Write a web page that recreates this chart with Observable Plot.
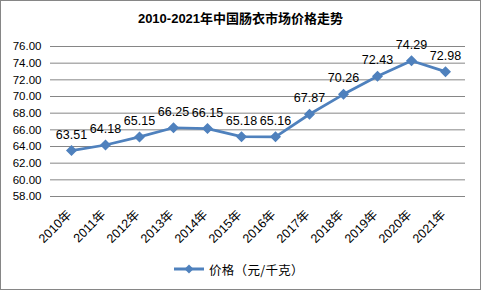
<!DOCTYPE html>
<html><head><meta charset="utf-8">
<script src="https://cdn.jsdelivr.net/npm/d3@7"></script>
<script src="https://cdn.jsdelivr.net/npm/@observablehq/plot@0.6"></script>
<style>
body{margin:0;background:#fff;}
#wrap{width:481px;height:290px;box-sizing:border-box;border:1px solid #868686;background:#fff;font-family:"Liberation Sans","Noto Sans CJK SC",sans-serif;position:relative;overflow:hidden;color:#000}
#title{height:37px;line-height:36px;text-align:center;font-weight:bold;font-size:13px;}
#chart svg{display:block}
#legend{position:absolute;left:173px;top:259px;height:18px;display:flex;align-items:center;font-size:12.5px;font-family:"Noto Sans CJK SC","Liberation Sans",sans-serif}
#legend span{margin-left:5px;letter-spacing:0.3px}
</style></head>
<body>
<div id="wrap">
<div id="title">2010-2021年中国肠衣市场价格走势</div>
<div id="chart"></div>
<div id="legend"><svg width="30" height="12"><line x1="0" y1="6" x2="30" y2="6" stroke="#4F81BD" stroke-width="3"/><path d="M15,1.5L19.5,6L15,10.5L10.5,6Z" fill="#4F81BD"/></svg><span>价格（元/千克）</span></div>
</div>
<script>
const years = ["2010年","2011年","2012年","2013年","2014年","2015年","2016年","2017年","2018年","2019年","2020年","2021年"];
const prices = [63.51,64.18,65.15,66.25,66.15,65.18,65.16,67.87,70.26,72.43,74.29,72.98];
const yTicks = [58,60,62,64,66,68,70,72,74,76];
const data = years.map((y,i)=>({year:y, price:prices[i]}));
const font = '"Liberation Sans","Noto Sans CJK SC",sans-serif';
const chart = Plot.plot({
  width:479, height:222, marginTop:8, marginLeft:49, marginRight:15, marginBottom:64,
  style:{fontFamily:font, fontSize:"11.5px", color:"#000", background:"transparent"},
  x:{type:"point", domain:years, padding:0.5, label:null},
  y:{domain:[58,76], label:null},
  marks:[
    Plot.ruleY(yTicks,{stroke:"#868686", strokeWidth:1}),
    Plot.axisY({ticks:yTicks, tickFormat:d=>d.toFixed(2), tickSize:0, tickPadding:9, fontSize:11.5, label:null}),
    Plot.axisX({tickSize:0, tickRotate:-45, tickPadding:16, dx:-2, fontSize:12.5, label:null}),
    Plot.line(data,{x:"year",y:"price",stroke:"#4F81BD",strokeWidth:2.75}),
    Plot.dot(data,{x:"year",y:"price",symbol:"diamond2",r:4,fill:"#4F81BD",stroke:"#4F81BD"}),
    Plot.text(data,{x:"year",y:"price",text:d=>d.price.toFixed(2),dy:-12,lineAnchor:"bottom",fontSize:12.5})
  ]
});
document.getElementById("chart").appendChild(chart);
</script>
</body></html>
